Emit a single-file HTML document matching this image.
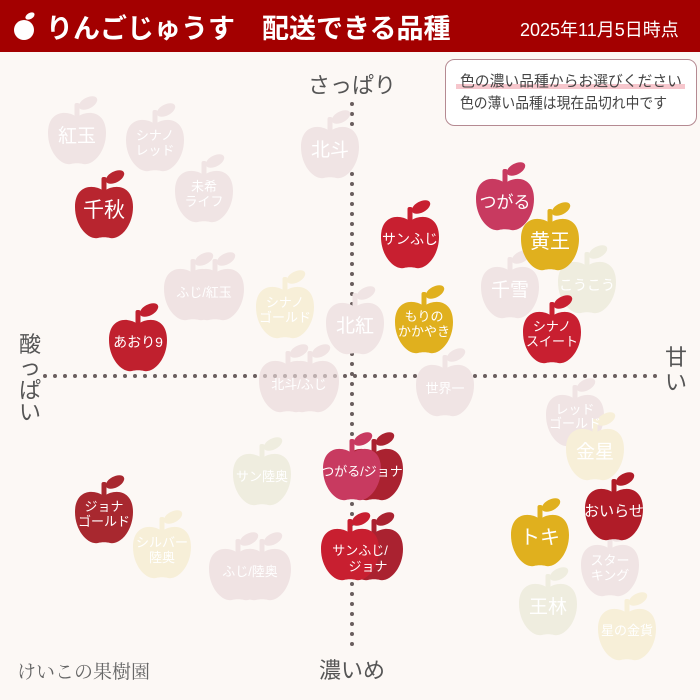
<!DOCTYPE html>
<html><head><meta charset="utf-8"><style>
html,body{margin:0;padding:0;background:#fcf8f5;}
svg{display:block;font-family:"Liberation Sans","Noto Sans CJK JP",sans-serif;}
</style></head><body>
<svg width="700" height="700" viewBox="0 0 700 700">
<defs>
<g id="ap">
<path d="M0,-19 C-12,-27 -29,-24 -29,-3 C-29,16 -16,30 -6,28 C-3,27 3,27 6,28 C16,30 29,16 29,-3 C29,-24 12,-27 0,-19Z"/>
<rect x="-2.5" y="-33" width="5" height="14" rx="2"/>
<ellipse cx="11" cy="-33" rx="10" ry="5.5" transform="rotate(-28 11 -33)"/>
</g>
</defs>
<rect width="700" height="700" fill="#fcf8f5"/>
<rect width="700" height="52" fill="#a30000"/>
<g fill="#fff">
<circle cx="24" cy="30" r="10"/><ellipse cx="30" cy="16" rx="5" ry="3" transform="rotate(-30 30 16)"/>
</g>
<text x="46" y="38" fill="#fff" font-size="27" font-weight="bold">りんごじゅうす　配送できる品種</text>
<text x="520" y="36" fill="#fff" font-size="18">2025年11月5日時点</text>

<rect x="445.5" y="59.5" width="251" height="66" rx="9" fill="#fff" stroke="#b58a92"/>
<rect x="456" y="84" width="229" height="5" fill="#f6c6cc"/>
<text x="460" y="86" font-size="15" fill="#444" textLength="222" lengthAdjust="spacingAndGlyphs">色の濃い品種からお選びください</text>
<text x="460" y="108" font-size="15" fill="#444" textLength="207" lengthAdjust="spacingAndGlyphs">色の薄い品種は現在品切れ中です</text>

<line x1="352" y1="104" x2="352" y2="652" stroke="#6a5e5e" stroke-width="4" stroke-linecap="round" stroke-dasharray="0 10"/>
<line x1="45" y1="376" x2="656" y2="376" stroke="#6a5e5e" stroke-width="4" stroke-linecap="round" stroke-dasharray="0 10"/>
<g font-size="22" fill="#555" text-anchor="middle">
<text x="352" y="93">さっぱり</text>
<text x="352" y="678">濃いめ</text>
<text x="30" y="352">酸</text><text x="30" y="375">っ</text><text x="30" y="398">ぱ</text><text x="30" y="420">い</text>
<text x="676" y="365">甘</text><text x="676" y="390">い</text>
</g>
<text x="17" y="678" font-size="19" fill="#666" font-family="'Liberation Serif','Noto Serif CJK SC',serif">けいこの果樹園</text>

<g fill="#f0e4e4">
<use href="#ap" x="77" y="136"/><use href="#ap" x="155" y="143"/><use href="#ap" x="204" y="194"/>
<use href="#ap" x="330" y="150"/><use href="#ap" x="355" y="326"/><use href="#ap" x="510" y="290"/>
<use href="#ap" x="445" y="388"/><use href="#ap" x="575" y="418"/><use href="#ap" x="610" y="568"/>
</g>
<g fill="#ead9da" opacity="0.65">
<use href="#ap" x="193" y="292"/><use href="#ap" x="215" y="292"/>
<use href="#ap" x="288" y="384"/><use href="#ap" x="310" y="384"/>
<use href="#ap" x="238" y="572"/><use href="#ap" x="262" y="572"/>
</g>
<g fill="#f7efd8">
<use href="#ap" x="285" y="310"/><use href="#ap" x="595" y="452"/><use href="#ap" x="162" y="550"/><use href="#ap" x="627" y="632"/>
</g>
<g fill="#efeddf">
<use href="#ap" x="587" y="285"/><use href="#ap" x="262" y="477"/><use href="#ap" x="548" y="607"/>
</g>
<g fill="#fff" text-anchor="middle" font-size="19">
<text x="77" y="142">紅玉</text><text x="330" y="156">北斗</text><text x="355" y="332">北紅</text>
<text x="510" y="296">千雪</text><text x="595" y="458">金星</text><text x="548" y="613">王林</text>
</g>
<g fill="#fff" text-anchor="middle" font-size="13">
<text x="155" y="140">シナノ</text><text x="155" y="155">レッド</text>
<text x="204" y="191">未希</text><text x="204" y="206">ライフ</text>
<text x="204" y="297">ふじ/紅玉</text>
<text x="285" y="307">シナノ</text><text x="285" y="322">ゴールド</text>
<text x="587" y="290" font-size="14">こうこう</text>
<text x="299" y="389">北斗/ふじ</text><text x="445" y="393">世界一</text>
<text x="575" y="414">レッド</text><text x="575" y="428">ゴールド</text>
<text x="262" y="481">サン陸奥</text>
<text x="162" y="547">シルバー</text><text x="162" y="562">陸奥</text>
<text x="250" y="576">ふじ/陸奥</text>
<text x="610" y="565">スター</text><text x="610" y="580">キング</text>
<text x="627" y="635">星の金貨</text>
</g>

<use href="#ap" x="104" y="210" fill="#b8252f"/>
<use href="#ap" x="138" y="343" fill="#c0202e"/>
<use href="#ap" x="410" y="240" fill="#c81f30"/>
<use href="#ap" x="505" y="202" fill="#c83a60"/>
<use href="#ap" x="550" y="242" fill="#e0b01e"/>
<use href="#ap" x="424" y="325" fill="#e0b01e"/>
<use href="#ap" x="552" y="335" fill="#c81f30"/>
<use href="#ap" x="374" y="472" fill="#aa2230"/>
<use href="#ap" x="352" y="472" fill="#c83a60"/>
<use href="#ap" x="104" y="515" fill="#a8282f"/>
<use href="#ap" x="374" y="552" fill="#aa2230"/>
<use href="#ap" x="350" y="552" fill="#c81f30"/>
<use href="#ap" x="614" y="512" fill="#b01c28"/>
<use href="#ap" x="540" y="538" fill="#e0b01e"/>
<g fill="#fff" text-anchor="middle">
<text x="104" y="217" font-size="21">千秋</text>
<text x="138" y="347" font-size="14">あおり9</text>
<text x="410" y="244" font-size="14">サンふじ</text>
<text x="505" y="208" font-size="17">つがる</text>
<text x="550" y="248" font-size="20">黄王</text>
<text x="424" y="321" font-size="13">もりの</text><text x="424" y="336" font-size="13">かかやき</text>
<text x="552" y="331" font-size="13">シナノ</text><text x="552" y="346" font-size="13">スイート</text>
<text x="362" y="476" font-size="13">つがる/ジョナ</text>
<text x="104" y="511" font-size="13">ジョナ</text><text x="104" y="526" font-size="13">ゴールド</text>
<text x="360" y="555" font-size="13">サンふじ/</text><text x="368" y="571" font-size="13">ジョナ</text>
<text x="614" y="516" font-size="15">おいらせ</text>
<text x="540" y="544" font-size="20">トキ</text>
</g>
</svg>
</body></html>
